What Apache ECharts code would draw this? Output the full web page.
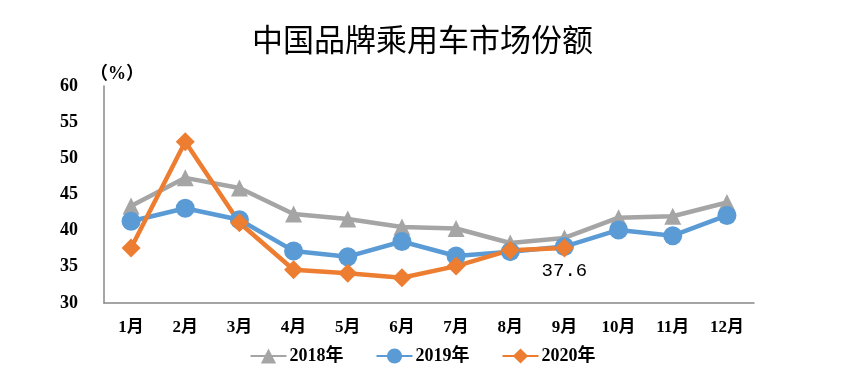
<!DOCTYPE html>
<html><head><meta charset="utf-8">
<script src="https://cdn.jsdelivr.net/npm/echarts@6/dist/echarts.min.js"></script>
<style>html,body{margin:0;padding:0;background:#fff}#c{width:845px;height:386px}</style>
</head><body><div id="c"></div>
<script>
const months = ['1月','2月','3月','4月','5月','6月','7月','8月','9月','10月','11月','12月'];
const s2018 = [43.4, 47.3, 45.9, 42.3, 41.6, 40.5, 40.3, 38.3, 39.0, 41.8, 42.0, 43.9];
const s2019 = [41.3, 43.1, 41.5, 37.2, 36.4, 38.5, 36.5, 37.1, 37.8, 40.1, 39.3, 42.1];
const s2020 = [37.6, 52.3, 41.1, 34.6, 34.1, 33.5, 35.1, 37.3, 37.6];
const yTicks = {min: 30, max: 60, interval: 5};
const names = ['2018年','2019年','2020年'];

const bold = "'Liberation Serif','Noto Sans CJK SC',serif";
const chart = echarts.init(document.getElementById('c'));
chart.setOption({
  animation: false,
  title: {text: '中国品牌乘用车市场份额', left: 'center', top: 19,
    textStyle: {fontSize: 31, fontWeight: 'normal', color: '#000', fontFamily: "'Noto Sans CJK SC'"}},
  legend: {bottom: 16, left: 'center', itemWidth: 36, itemHeight: 19, itemGap: 32,
    textStyle: {fontSize: 18, fontWeight: 'bold', color: '#000', fontFamily: bold, padding: [0,0,0,-2]},
    data: names},
  grid: {left: 104, right: 91, top: 86, bottom: 83},
  xAxis: {type: 'category', data: months, boundaryGap: true,
    axisLine: {lineStyle: {color: '#888', width: 1.5}}, axisTick: {show: false},
    axisLabel: {fontSize: 17, fontWeight: 'bold', color: '#000', fontFamily: bold, margin: 16}},
  yAxis: {type: 'value', min: yTicks.min, max: yTicks.max, interval: yTicks.interval,
    name: '（%）', nameGap: 3, nameTextStyle: {fontSize: 18, fontWeight: 'bold', color: '#000', fontFamily: bold, align: 'left', padding: [0,0,0,-14]},
    axisLine: {show: true, lineStyle: {color: '#888', width: 1.5}}, axisTick: {show: false}, splitLine: {show: false},
    axisLabel: {fontSize: 18, fontWeight: 'bold', color: '#000', fontFamily: bold, margin: 26}},
  series: [
    {name: names[0], type: 'line', data: s2018, symbol: 'triangle', symbolSize: 17,
      itemStyle: {color: '#A5A5A5'}, lineStyle: {width: 4.5, color: '#A5A5A5'}},
    {name: names[1], type: 'line', data: s2019, symbol: 'circle', symbolSize: 19,
      itemStyle: {color: '#5B9BD5'}, lineStyle: {width: 4.5, color: '#5B9BD5'}},
    {name: names[2], type: 'line', data: s2020, symbol: 'diamond', symbolSize: 19,
      itemStyle: {color: '#ED7D31'}, lineStyle: {width: 4.5, color: '#ED7D31'},
      label: {show: true, position: 'bottom', distance: 4, fontSize: 19, color: '#000', fontFamily: "'Liberation Mono',monospace",
        formatter: p => p.dataIndex === s2020.length - 1 ? p.value.toFixed(1) : ''}}
  ]
});
</script></body></html>
